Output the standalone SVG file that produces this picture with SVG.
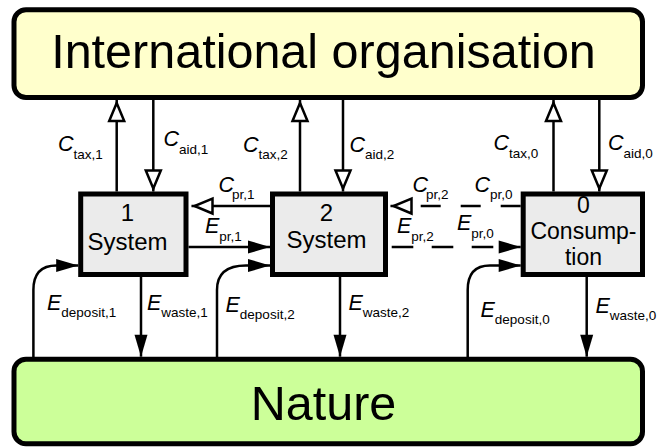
<svg xmlns="http://www.w3.org/2000/svg" width="672" height="448" viewBox="0 0 672 448">
<style>
.box{stroke:#000;stroke-width:5}
.org{fill:#ffffcc}
.nat{fill:#ccff99}
.sys{fill:#ebebeb}
.big{font-family:"Liberation Sans",Arial,sans-serif;font-size:48.5px;text-anchor:middle}
.name{font-family:"Liberation Sans",Arial,sans-serif;font-size:24px;text-anchor:middle}
.cons{font-size:23px}
.lbl{font-family:"Liberation Sans",Arial,sans-serif;font-size:21.5px;font-style:italic}
.sub{font-size:13.5px;font-style:normal}
.ln{fill:none;stroke:#000;stroke-width:2.5}
.flow{marker-end:url(#filled)}
.money{marker-end:url(#hollow)}
.dc{stroke-dasharray:20 20}
.de{stroke-dasharray:21.6 18.4}
</style>
<defs>
<marker id="hollow" markerUnits="userSpaceOnUse" markerWidth="30" markerHeight="24" refX="21" refY="0" orient="auto" overflow="visible">
<path d="M0,-7.5 L18,0 L0,7.5 Z" fill="#fff" stroke="#000" stroke-width="2.5" stroke-linejoin="miter"/>
</marker>
<marker id="filled" markerUnits="userSpaceOnUse" markerWidth="30" markerHeight="24" refX="22" refY="0" orient="auto" overflow="visible">
<path d="M0,-6.5 L22,0 L0,6.5 Z" fill="#000"/>
</marker>
</defs>

<g id="intl">
<rect class="box org" x="14" y="9.7" width="628.5" height="87.8" rx="12"/>
<text class="big" x="323.5" y="68">International organisation</text>
</g>
<g id="nature">
<rect class="box nat" x="14" y="359.2" width="628.5" height="84.5" rx="12"/>
<text class="big" x="323.5" y="420">Nature</text>
</g>
<g id="system1">
<rect class="box sys" x="80.7" y="194" width="105.3" height="80.5"/>
<text class="name" x="127.5" y="221">1</text>
<text class="name" x="127.5" y="249.5">System</text>
</g>
<g id="system2">
<rect class="box sys" x="272.5" y="194" width="113" height="80.5"/>
<text class="name" x="326.5" y="221">2</text>
<text class="name" x="326.5" y="248">System</text>
</g>
<g id="consumption">
<rect class="box sys" x="523.2" y="194" width="119.3" height="80.5"/>
<text class="name cons" x="583.5" y="213">0</text>
<text class="name cons" x="583.5" y="239">Consump-</text>
<text class="name cons" x="583.5" y="265">tion</text>
</g>

<g id="connectors">
<path class="ln money" d="M116.7,191.5 V100"/>
<path class="ln money" d="M153.3,100 V191.5"/>
<path class="ln money" d="M300,191.5 V100"/>
<path class="ln money" d="M343,100 V191.5"/>
<path class="ln money" d="M553.5,191.5 V100"/>
<path class="ln money" d="M599.3,100 V191.5"/>
<path class="ln money" d="M270,206 H191.5"/>
<path class="ln money dc" d="M520.7,206 H390.5"/>
<path class="ln flow" d="M188.5,247 H270"/>
<path class="ln flow de" d="M391.7,247 H520.7"/>
<path class="ln flow" d="M33.4,357 V290 Q33.4,265.5 56.5,265.5 H78.2"/>
<path class="ln flow" d="M217,357 V290 Q217,265.5 246,265.5 H270"/>
<path class="ln flow" d="M467.7,357 V290 Q467.7,265.5 490,265.5 H520.7"/>
<path class="ln flow" d="M141,277 V356.7"/>
<path class="ln flow" d="M340,277 V356.7"/>
<path class="ln flow" d="M586.7,277 V356.7"/>
</g>

<g id="labels">
<text class="lbl" x="58" y="151">C<tspan class="sub" dy="7.5">tax,1</tspan></text>
<text class="lbl" x="163.5" y="146">C<tspan class="sub" dy="8">aid,1</tspan></text>
<text class="lbl" x="243" y="151.5">C<tspan class="sub" dy="7">tax,2</tspan></text>
<text class="lbl" x="349.5" y="151.5">C<tspan class="sub" dy="7.5">aid,2</tspan></text>
<text class="lbl" x="493.5" y="150">C<tspan class="sub" dy="8">tax,0</tspan></text>
<text class="lbl" x="608" y="150">C<tspan class="sub" dy="8">aid,0</tspan></text>
<text class="lbl" x="218.5" y="192">C<tspan class="sub" dy="6.5" dx="-2">pr,1</tspan></text>
<text class="lbl" x="412.5" y="192">C<tspan class="sub" dy="6.5" dx="-2">pr,2</tspan></text>
<text class="lbl" x="474.5" y="192">C<tspan class="sub" dy="6.5">pr,0</tspan></text>
<text class="lbl" x="205" y="233">E<tspan class="sub" dy="8">pr,1</tspan></text>
<text class="lbl" x="397" y="233">E<tspan class="sub" dy="8">pr,2</tspan></text>
<text class="lbl" x="457" y="230">E<tspan class="sub" dy="8">pr,0</tspan></text>
<text class="lbl" x="47" y="310">E<tspan class="sub" dy="7">deposit,1</tspan></text>
<text class="lbl" x="147" y="309.5">E<tspan class="sub" dy="7">waste,1</tspan></text>
<text class="lbl" x="225.5" y="311.5">E<tspan class="sub" dy="7">deposit,2</tspan></text>
<text class="lbl" x="348.5" y="310">E<tspan class="sub" dy="7">waste,2</tspan></text>
<text class="lbl" x="480.5" y="316.5">E<tspan class="sub" dy="7">deposit,0</tspan></text>
<text class="lbl" x="595.5" y="313">E<tspan class="sub" dy="7">waste,0</tspan></text>
</g>
</svg>
